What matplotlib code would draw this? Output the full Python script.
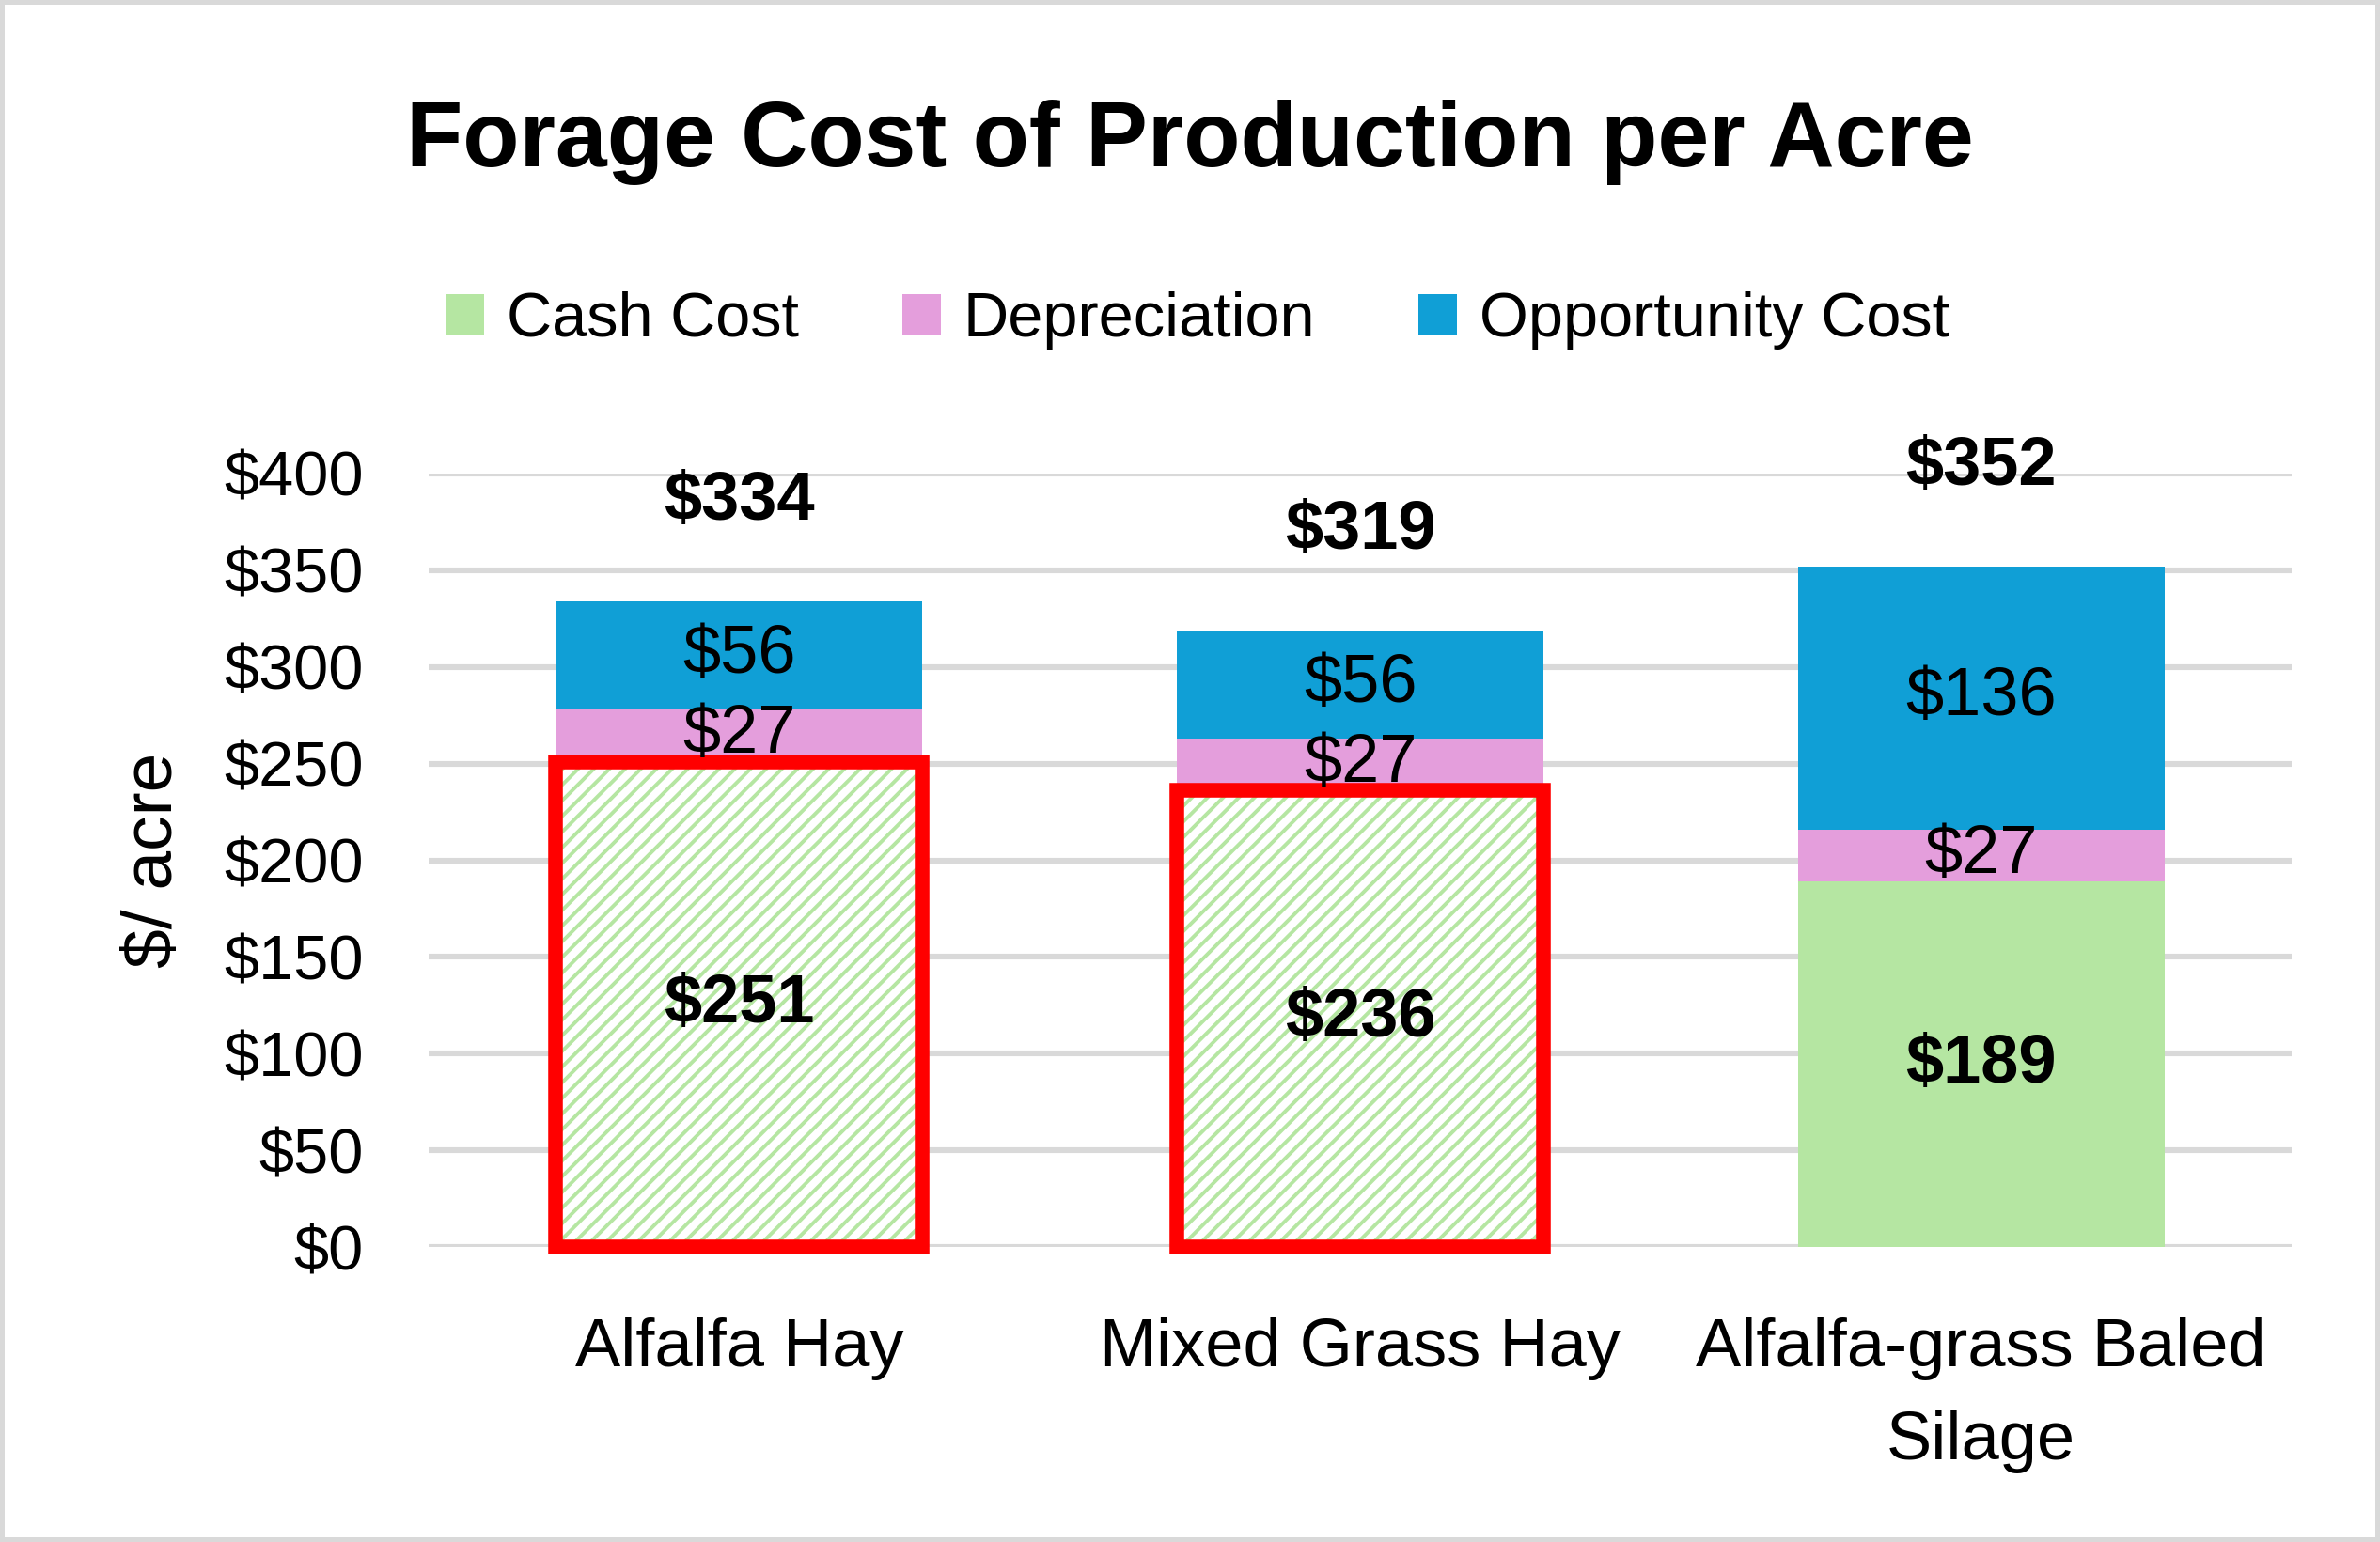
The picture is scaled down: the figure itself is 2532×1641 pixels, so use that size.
import numpy as np
import matplotlib
matplotlib.use("Agg")
import matplotlib.pyplot as plt
from matplotlib.patches import Patch, Rectangle
from matplotlib.ticker import FixedLocator, FuncFormatter

plt.rcParams['font.family'] = ['Liberation Sans', 'DejaVu Sans']
plt.rcParams['text.parse_math'] = False
plt.rcParams['hatch.linewidth'] = 1.4

# ---- data ----
categories = ["Alfalfa Hay", "Mixed Grass Hay", "Alfalfa-grass Baled\nSilage"]
cash_cost = [251, 236, 189]
depreciation = [27, 27, 27]
opportunity_cost = [56, 56, 136]
highlighted = [True, True, False]
series_names = ["Cash Cost", "Depreciation", "Opportunity Cost"]
yticks = [0, 50, 100, 150, 200, 250, 300, 350, 400]
title = "Forage Cost of Production per Acre"
ylabel = "$/ acre"

# ---- styles ----
c_cash = "#B5E6A2"
c_dep = "#E49EDC"
c_opp = "#109FD6"
c_red = "#FF0000"
c_grid = "#D9D9D9"

W, H, DPI = 2532, 1641, 200
fig = plt.figure(figsize=(W / DPI, H / DPI), dpi=DPI)
ax = fig.add_axes([456 / W, 1 - 1327 / H, (2438 - 456) / W, (1327 - 504) / H])

x = np.arange(len(categories))
width = 0.59
cash = np.array(cash_cost)
dep = np.array(depreciation)
opp = np.array(opportunity_cost)
totals = cash + dep + opp

bars_cash = ax.bar(x, cash, width, color=c_cash, linewidth=0, zorder=2)
for p, hl in zip(bars_cash, highlighted):
    if hl:
        p.set_facecolor("white")
        p.set_edgecolor(c_cash)
        p.set_hatch("////")
        p.set_linewidth(0)
ax.bar(x, dep, width, bottom=cash, color=c_dep, linewidth=0, zorder=2)
ax.bar(x, opp, width, bottom=cash + dep, color=c_opp, linewidth=0, zorder=2)

hl = np.array(highlighted)
ax.bar(x[hl], cash[hl], width, fill=False, edgecolor=c_red, linewidth=5.6,
       zorder=3, clip_on=False)

# segment labels
for xi, c, d, o, t in zip(x, cash, dep, opp, totals):
    ax.text(xi, c / 2, f"${c}", ha="center", va="center", fontsize=26,
            fontweight="bold", zorder=5)
    ax.text(xi, c + d / 2, f"${d}", ha="center", va="center", fontsize=26, zorder=5)
    ax.text(xi, c + d + o / 2, f"${o}", ha="center", va="center", fontsize=26, zorder=5)
    ax.annotate(f"${t}", (xi, t), xytext=(0, 38), textcoords="offset points",
                ha="center", va="center", fontsize=26, fontweight="bold", zorder=5)

ax.set_xlim(-0.5, len(categories) - 0.5)
ax.set_ylim(0, 400)
ax.yaxis.set_major_locator(FixedLocator(yticks))
ax.yaxis.set_major_formatter(FuncFormatter(lambda v, pos: f"${v:.0f}"))
ax.set_xticks(x)
ax.set_xticklabels(categories, fontsize=26, linespacing=1.62)
ax.tick_params(axis="x", length=0, pad=27)
ax.tick_params(axis="y", length=0, pad=25, labelsize=24)
ax.yaxis.grid(True, color=c_grid, linewidth=2.2)
ax.set_axisbelow(True)
for s in ax.spines.values():
    s.set_visible(False)

ax.set_ylabel(ylabel, fontsize=27)
ax.yaxis.set_label_coords(-0.13, 0.5)

fig.text(0.5, 1 - 177 / H, title, ha="center", va="baseline", fontsize=35.5,
         fontweight="bold")

handles = [Patch(facecolor=c, edgecolor="none") for c in (c_cash, c_dep, c_opp)]
fig.legend(handles, series_names, loc="center",
           bbox_to_anchor=(1274 / W, 1 - 341 / H), ncol=3, frameon=False,
           fontsize=24, handlelength=0.62, handleheight=0.62,
           handletextpad=0.35, columnspacing=1.65)

fig.patches.append(Rectangle((0, 0), 1, 1, transform=fig.transFigure, fill=False,
                             edgecolor=c_grid, linewidth=3.6))

fig.savefig("out.png", dpi=DPI, facecolor="white")
